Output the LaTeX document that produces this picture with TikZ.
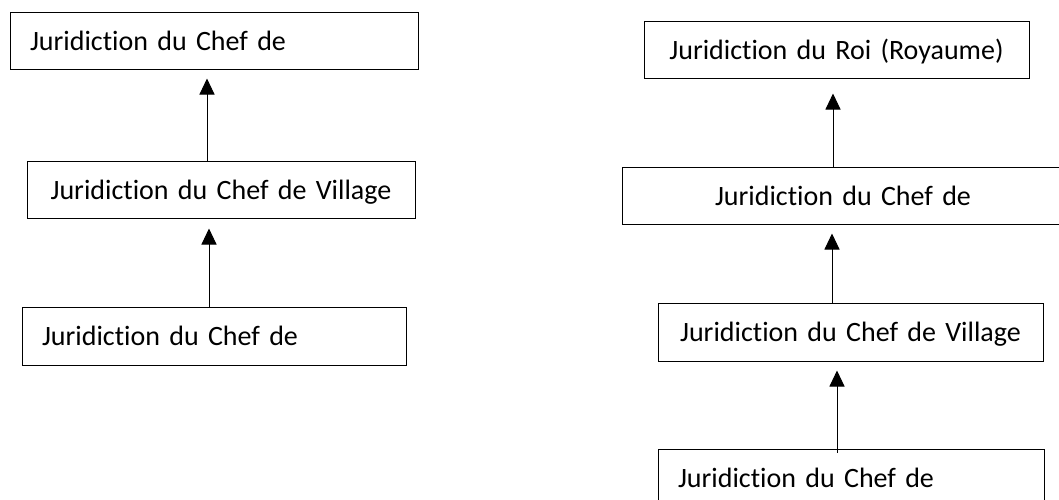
\documentclass[tikz,border=0pt]{standalone}
\usepackage{fontspec}
\setmainfont{Carlito}[Ligatures={NoCommon}]
\usetikzlibrary{arrows.meta}
\tikzset{
  jbox/.style={draw=black, line width=1pt, fill=white, inner xsep=20pt, inner ysep=0pt,
    minimum height=57pt, text width=#1-40pt, align=left,
    text height=20pt, text depth=1pt, font=\fontsize{28}{33}\selectfont},
  jboxc/.style={jbox=#1, align=center},
  uparr/.style={line width=1pt, -{Triangle[length=16pt,width=15pt]}},
}
\begin{document}
\begin{tikzpicture}[x=1pt,y=-1pt]
\useasboundingbox (0,0) rectangle (1059,499);
\clip (0,0) rectangle (1059,499);
% left column
\node[jbox=408pt, minimum width=408pt] (A) at (214,40.5) {Juridiction du Chef de};
\node[jboxc=388pt, minimum width=388pt] (B) at (221,189.5) {Juridiction du Chef de Village};
\node[jbox=384pt, minimum width=384pt, minimum height=58pt] (C) at (214,336) {Juridiction du Chef de};
% right column
\node[jboxc=385pt, minimum width=385pt] (D) at (836.5,49.5) {Juridiction du Roi (Royaume)};
\node[jboxc=442pt, minimum width=442pt] (E) at (843,195.5) {Juridiction du Chef de};
\node[jboxc=385pt, minimum width=385pt, minimum height=58pt] (F) at (850.5,332) {Juridiction du Chef de Village};
\node[jbox=386pt, minimum width=386pt, minimum height=58pt] (G) at (851,478) {Juridiction du Chef de};
% arrows
\draw[uparr, shorten >=9pt] ([xshift=-14pt]B.north) -- ([xshift=-14pt]B.north |- A.south);
\draw[uparr, shorten >=10pt] ([xshift=-5pt]C.north) -- ([xshift=-5pt]C.north |- B.south);
\draw[uparr, shorten >=15pt] ([xshift=-10pt]E.north) -- ([xshift=-10pt]E.north |- D.south);
\draw[uparr, shorten >=9pt] ([xshift=-18.5pt]F.north) -- ([xshift=-18.5pt]F.north |- E.south);
\draw[uparr, shorten >=9pt, shorten <=-4pt] ([xshift=-14pt]G.north) -- ([xshift=-14pt]G.north |- F.south);
\end{tikzpicture}
\end{document}
